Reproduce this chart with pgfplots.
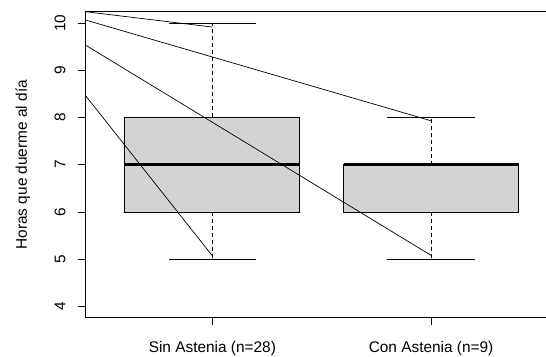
\documentclass[border=0pt]{standalone}
\usepackage{fontspec}
\setmainfont{Liberation Sans}
\usepackage{pgfplots}
\pgfplotsset{compat=1.18}
\usepgfplotslibrary{statistics}
\definecolor{rlightgray}{HTML}{D3D3D3}
\begin{document}
\begin{tikzpicture}
\begin{axis}[
  at={(0,0)}, anchor=south west,
  scale only axis, width=460.5pt, height=306pt,
  xmin=0.42, xmax=2.5256, ymin=3.76, ymax=10.24,
  axis x line*=box, axis y line*=left,
  axis line style={black, line width=0.8pt},
  xtick={1,2}, xticklabels={Sin Astenia (n=28), Con Astenia (n=9)},
  ytick={4,5,6,7,8,9,10},
  xtick pos=left, ytick pos=left,
  tick align=outside, major tick length=7pt,
  tick style={black, line width=0.8pt},
  /pgf/number format/assume math mode=true,
  ticklabel style={font=\fontsize{15.4}{18}\selectfont},
  yticklabel style={rotate=90},
  xticklabel shift=13pt,
  yticklabel shift=9.5pt,
  ylabel={Horas que duerme al día},
  every axis y label/.style={at={(rel axis cs:0,0.5)}, xshift=-58.5pt, rotate=90, anchor=base, font=\fontsize{15.4}{18}\selectfont},
  boxplot/draw direction=y,
  boxplot/every median/.style={line width=3pt},
  boxplot/draw/lower whisker/.code={
    \draw[dash pattern=on 4pt off 3pt, line width=0.8pt]
      (boxplot cs:\pgfplotsboxplotvalue{lower quartile}) -- (boxplot cs:\pgfplotsboxplotvalue{lower whisker});
    \draw[solid, line width=0.8pt]
      (boxplot whisker cs:\pgfplotsboxplotvalue{lower whisker},0) -- (boxplot whisker cs:\pgfplotsboxplotvalue{lower whisker},1);
  },
  boxplot/draw/upper whisker/.code={
    \draw[dash pattern=on 4pt off 3pt, line width=0.8pt]
      (boxplot cs:\pgfplotsboxplotvalue{upper quartile}) -- (boxplot cs:\pgfplotsboxplotvalue{upper whisker});
    \draw[solid, line width=0.8pt]
      (boxplot whisker cs:\pgfplotsboxplotvalue{upper whisker},0) -- (boxplot whisker cs:\pgfplotsboxplotvalue{upper whisker},1);
  },
]
\addplot[fill=rlightgray, draw=black, line width=0.8pt,
  boxplot prepared={draw position=1, median=7, upper quartile=8, lower quartile=6,
    upper whisker=10, lower whisker=5, box extend=0.8, whisker extend=0.4}] coordinates {};
\addplot[fill=rlightgray, draw=black, line width=0.8pt,
  boxplot prepared={draw position=2, median=7, upper quartile=7, lower quartile=6,
    upper whisker=8, lower whisker=5, box extend=0.8, whisker extend=0.4}] coordinates {};
\addplot[black, line width=0.7pt] coordinates {(0.42,10.24) (1,9.915)};
\addplot[black, line width=0.7pt] coordinates {(0.42,10.064) (2,7.93)};
\addplot[black, line width=0.7pt] coordinates {(0.42,9.533) (2,5.08)};
\addplot[black, line width=0.7pt] coordinates {(0.42,8.465) (1,5.07)};
\end{axis}
\pgfresetboundingbox
\useasboundingbox (-85.5pt,-38.3pt) rectangle (460.5pt,317.7pt);
\end{tikzpicture}
\end{document}
